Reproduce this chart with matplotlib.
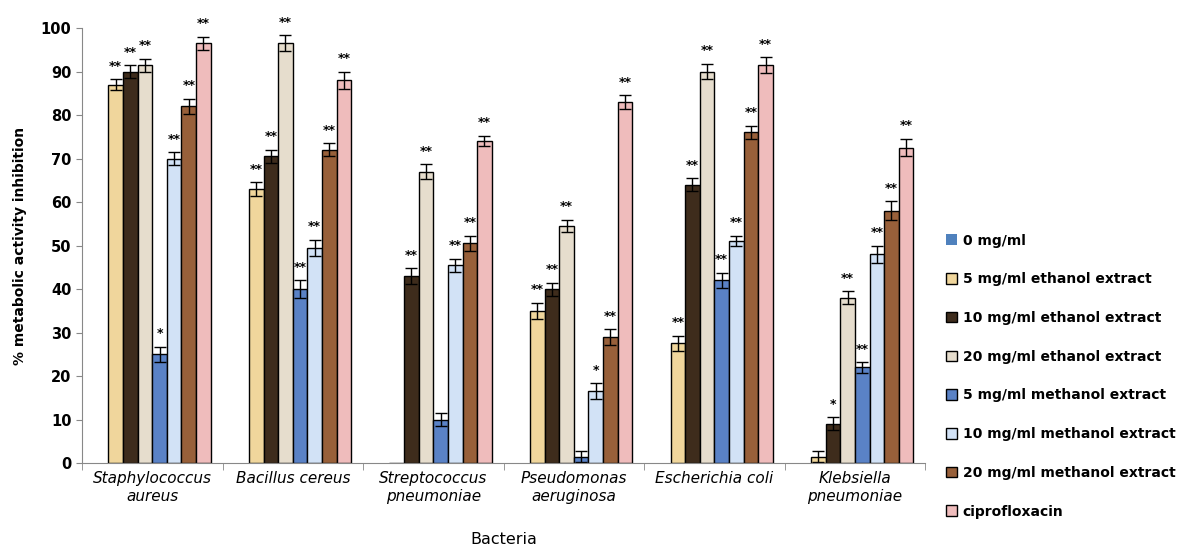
import numpy as np
import matplotlib.pyplot as plt

bacteria = ['Staphylococcus\naureus', 'Bacillus cereus', 'Streptococcus\npneumoniae',
            'Pseudomonas\naeruginosa', 'Escherichia coli', 'Klebsiella\npneumoniae']

series = ['0 mg/ml', '5 mg/ml ethanol extract', '10 mg/ml ethanol extract',
          '20 mg/ml ethanol extract', '5 mg/ml methanol extract',
          '10 mg/ml methanol extract', '20 mg/ml methanol extract', 'ciprofloxacin']

# one row per series, one column per bacterium
values = [
    [0, 0, 0, 0, 0, 0],
    [87, 63, 0, 35, 27.5, 1.5],
    [90, 70.5, 43, 40, 64, 9],
    [91.5, 96.5, 67, 54.5, 90, 38],
    [25, 40, 10, 1.5, 42, 22],
    [70, 49.5, 45.5, 16.5, 51, 48],
    [82, 72, 50.5, 29, 76, 58],
    [96.5, 88, 74, 83, 91.5, 72.5],
]
errors = [
    [0, 0, 0, 0, 0, 0],
    [1.2, 1.5, 0, 1.8, 1.8, 1.3],
    [1.5, 1.5, 1.8, 1.5, 1.5, 1.5],
    [1.5, 1.8, 1.7, 1.4, 1.8, 1.5],
    [1.8, 2.0, 1.5, 1.2, 1.8, 1.2],
    [1.5, 1.8, 1.5, 1.8, 1.2, 2.0],
    [1.8, 1.5, 1.8, 1.8, 1.5, 2.2],
    [1.5, 2.0, 1.2, 1.5, 1.8, 2.0],
]
stars = [
    ['', '', '', '', '', ''],
    ['**', '**', '', '**', '**', ''],
    ['**', '**', '**', '**', '**', '*'],
    ['**', '**', '**', '**', '**', '**'],
    ['*', '**', '', '', '**', '**'],
    ['**', '**', '**', '*', '**', '**'],
    ['**', '**', '**', '**', '**', '**'],
    ['**', '**', '**', '**', '**', '**'],
]

colors = ['#4f81bd', '#f0d69c', '#3e2c1c', '#e6ddcd', '#5a82c6',
          '#d2e2f6', '#98603a', '#efbcbc']

fig = plt.figure(figsize=(11.81, 5.5), dpi=100)
ax = fig.add_axes([0.0694, 0.158, 0.714, 0.791])

n = len(series)
x = np.arange(len(bacteria))
w = 0.104
for i in range(n):
    pos = x + (i - (n - 1) / 2) * w
    vals = np.array(values[i])
    errs = np.array(errors[i])
    if i == 0:
        ax.bar(pos, vals, w, color=colors[i], label=series[i])
        continue
    ax.bar(pos, vals, w, color=colors[i], edgecolor='black', linewidth=1.0,
           label=series[i])
    show = vals > 0
    ax.errorbar(pos[show], vals[show], yerr=errs[show], fmt='none',
                ecolor='black', elinewidth=1.0, capsize=4.5, capthick=1.0)
    for p, v, e, s in zip(pos, vals, errs, stars[i]):
        if s:
            ax.text(p, v + e + 1.5, s, ha='center', va='bottom',
                    fontsize=9, fontweight='bold')

ax.set_xlim(-0.5, len(bacteria) - 0.5)
ax.set_ylim(0, 100)
ax.set_yticks(np.arange(0, 101, 10))
ax.set_xticks(x)
ax.set_xticklabels(bacteria, fontstyle='italic', fontsize=11)
ax.set_xticks(np.arange(-0.5, len(bacteria)), minor=True)
ax.tick_params(axis='x', which='major', length=0, pad=6)
ax.tick_params(axis='x', which='minor', length=5, color='#888888', direction='out')
ax.tick_params(axis='y', labelsize=10.5, color='#888888', length=4)
for lab in ax.get_yticklabels():
    lab.set_fontweight('bold')

for side in ['top', 'right']:
    ax.spines[side].set_visible(False)
for side in ['left', 'bottom']:
    ax.spines[side].set_color('#888888')

ax.set_ylabel('% metabolic activity inhibition', fontsize=10, fontweight='bold',
              labelpad=10)
ax.set_xlabel('Bacteria', fontsize=11.5, labelpad=20)

leg = ax.legend(loc='center left', bbox_to_anchor=(1.01, 0.2), frameon=False,
                fontsize=10, labelspacing=1.78, handlelength=0.8,
                handleheight=0.8, handletextpad=0.4)
for t in leg.get_texts():
    t.set_fontweight('bold')

fig.savefig('out.png', dpi=100)
